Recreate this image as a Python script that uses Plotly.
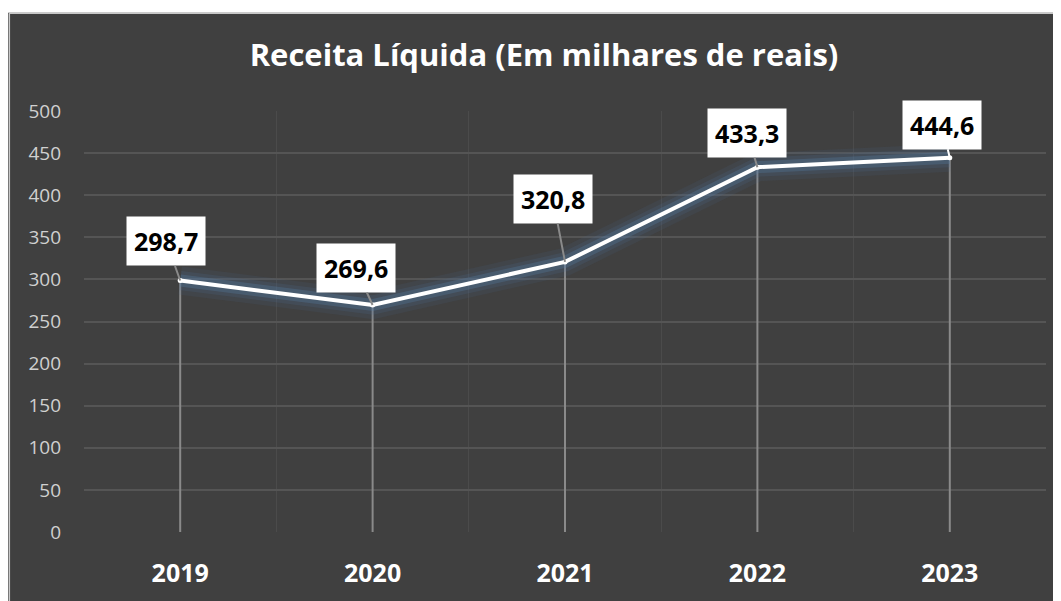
import plotly.graph_objects as go

years = ["2019", "2020", "2021", "2022", "2023"]
receita = [298.7, 269.6, 320.8, 433.3, 444.6]
labels = ["298,7", "269,6", "320,8", "433,3", "444,6"]
y_ticks = [0, 50, 100, 150, 200, 250, 300, 350, 400, 450, 500]

# label offsets (pixels) from each point
label_ax = [-14, -17, -12, -10, -8]
label_ay = [-39, -37, -63, -34, -33]
show_leader = [True, True, True, True, False]

# page body has an 8px default margin, figure sits at (8, 8)
W, H = 1053, 593
ml, mr, mt, mb = 75.5, 14.5, 103, 66
pw, ph = W - ml - mr, H - mt - mb

fig = go.Figure()

# drop lines from each point to the axis
dx, dy = [], []
for yr, v in zip(years, receita):
    dx += [yr, yr, None]
    dy += [0, v, None]
fig.add_trace(go.Scatter(x=dx, y=dy, mode="lines",
                         line=dict(color="#8a8a8a", width=2),
                         hoverinfo="skip", showlegend=False))

# glow under the line
for w, c in [(28, "rgba(75,110,150,0.12)"), (19, "rgba(75,110,150,0.18)"),
             (12, "rgba(85,125,165,0.30)")]:
    fig.add_trace(go.Scatter(x=years, y=receita, mode="lines",
                             line=dict(color=c, width=w),
                             hoverinfo="skip", showlegend=False))

fig.add_trace(go.Scatter(x=years, y=receita, mode="lines+markers",
                         line=dict(color="white", width=4),
                         marker=dict(color="white", size=5),
                         showlegend=False))

annotations = []
for i, (v, lab, ax, ay, sl) in enumerate(zip(receita, labels, label_ax, label_ay, show_leader)):
    annotations.append(dict(
        x=i, y=v, xref="x", yref="y", text="<b>" + lab + "</b>",
        showarrow=True, arrowhead=0, arrowwidth=2,
        arrowcolor="#8a8a8a" if sl else "white",
        ax=ax, ay=ay,
        bgcolor="white", borderpad=7,
        font=dict(family="Open Sans", size=25, color="black"),
    ))

# white strip at top and light border
shapes = [
    dict(type="rect", xref="paper", yref="paper",
         x0=-ml / pw - 0.01, x1=1 + mr / pw + 0.01,
         y0=1 + (mt - 4) / ph, y1=1 + mt / ph + 0.01,
         fillcolor="white", line_width=0),
    dict(type="line", xref="paper", yref="paper",
         x0=(0.5 - ml) / pw, x1=1 + mr / pw + 0.01,
         y0=1 + (mt - 4.5) / ph, y1=1 + (mt - 4.5) / ph,
         line=dict(color="#c8c8c8", width=1.5)),
    dict(type="line", xref="paper", yref="paper",
         x0=(0.75 - ml) / pw, x1=(0.75 - ml) / pw,
         y0=-mb / ph - 0.01, y1=1 + (mt - 4.5) / ph,
         line=dict(color="#c8c8c8", width=1.5)),
]

fig.update_layout(
    width=W, height=H,
    margin=dict(l=ml, r=mr, t=mt, b=mb),
    paper_bgcolor="#404040", plot_bgcolor="#404040",
    title=dict(text="<b>Receita Líquida (Em milhares de reais)</b>",
               x=536 / W, xanchor="center", y=1 - 47 / H, yanchor="middle",
               font=dict(family="Open Sans", size=31, color="white")),
    xaxis=dict(type="category", range=[-0.5, 4.5], tickson="boundaries",
               showgrid=True, gridcolor="#4b4b4b", gridwidth=1,
               showline=False, zeroline=False, ticks="",
               tickfont=dict(family="Open Sans", size=25, color="white",
                             weight="bold"),
               ticklabelstandoff=24),
    yaxis=dict(range=[0, 500], tickvals=y_ticks, showgrid=True,
               gridcolor="#555555", gridwidth=1.5, zeroline=False,
               showline=False, ticks="",
               tickfont=dict(family="Open Sans", size=19, color="#d0d0d0"),
               ticklabelstandoff=22),
    annotations=annotations,
    shapes=shapes,
    showlegend=False,
)

fig.write_html("out.html")
